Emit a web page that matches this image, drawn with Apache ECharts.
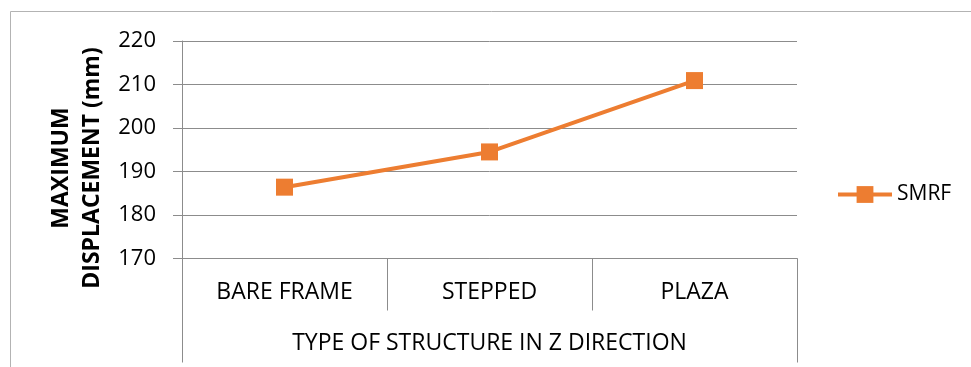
<!DOCTYPE html>
<html>
<head>
<meta charset="utf-8">
<script src="https://cdn.jsdelivr.net/npm/echarts@6/dist/echarts.min.js"></script>
<style>
  html, body { margin: 0; padding: 0; background: #fff; }
  #chart { width: 971px; height: 367px; }
</style>
</head>
<body>
<div id="chart"></div>
<script>
// Maximum displacement per structure type (Z direction)
const categories = ['BARE FRAME', 'STEPPED', 'PLAZA'];
const smrfValues = [186.4, 194.5, 210.9];
const seriesName = 'SMRF';
const yMin = 170, yMax = 220, yStep = 10;
const xTitle = 'TYPE OF STRUCTURE IN Z DIRECTION';
const yTitle = 'MAXIMUM\nDISPLACEMENT (mm)';

const FONT = '"Open Sans", sans-serif';
const ORANGE = '#ED7D31';
const GRID = '#8c8c8c';

const chart = echarts.init(document.getElementById('chart'), null, { renderer: 'canvas' });

chart.setOption({
  animation: false,
  backgroundColor: '#fff',
  textStyle: { fontFamily: FONT },
  grid: { left: 182, top: 41, width: 615, height: 217.5, containLabel: false },
  legend: {
    data: [seriesName],
    left: 836, top: 184, padding: 0,
    itemWidth: 54, itemHeight: 21, itemGap: 6,
    lineStyle: { width: 4 },
    textStyle: { fontFamily: FONT, fontSize: 21, color: '#000', padding: [0, 0, 0, 0] }
  },
  xAxis: [
    {
      type: 'category',
      data: categories,
      boundaryGap: true,
      axisLine: { show: true, lineStyle: { color: GRID, width: 1 } },
      axisTick: { show: true, alignWithLabel: false, length: 52, lineStyle: { color: GRID } },
      axisLabel: { margin: 22, fontFamily: FONT, fontSize: 23, color: '#000' },
      splitLine: { show: false }
    },
    {
      type: 'category',
      data: [xTitle],
      position: 'bottom',
      boundaryGap: true,
      axisLine: { show: false },
      axisTick: { show: true, alignWithLabel: false, length: 104, lineStyle: { color: GRID } },
      axisLabel: { margin: 73, fontFamily: FONT, fontSize: 23, color: '#000' },
      splitLine: { show: false }
    }
  ],
  yAxis: {
    type: 'value',
    min: yMin, max: yMax, interval: yStep,
    axisLine: { show: true, lineStyle: { color: GRID } },
    axisTick: { show: true, length: 9, lineStyle: { color: GRID } },
    axisLabel: { margin: 26, fontFamily: FONT, fontSize: 22, color: '#000' },
    splitLine: { show: true, lineStyle: { color: GRID, width: 1 } }
  },
  graphic: [
    {
      type: 'rect',
      shape: { x: 10.5, y: 11.5, width: 1000, height: 400 },
      style: { fill: 'none', stroke: '#b3b3b3', lineWidth: 1 },
      silent: true
    },
    {
      type: 'text',
      x: 77, y: 168,
      rotation: Math.PI / 2,
      style: {
        text: yTitle,
        fontFamily: FONT, fontSize: 23, fontWeight: 'bold',
        fill: '#000',
        align: 'center', verticalAlign: 'middle',
        lineHeight: 31
      }
    }
  ],
  series: [
    {
      name: seriesName,
      type: 'line',
      xAxisIndex: 0,
      data: smrfValues,
      symbol: 'rect',
      symbolSize: 17,
      lineStyle: { color: ORANGE, width: 4 },
      itemStyle: { color: ORANGE },
      label: { show: false }
    }
  ]
});
</script>
</body>
</html>
